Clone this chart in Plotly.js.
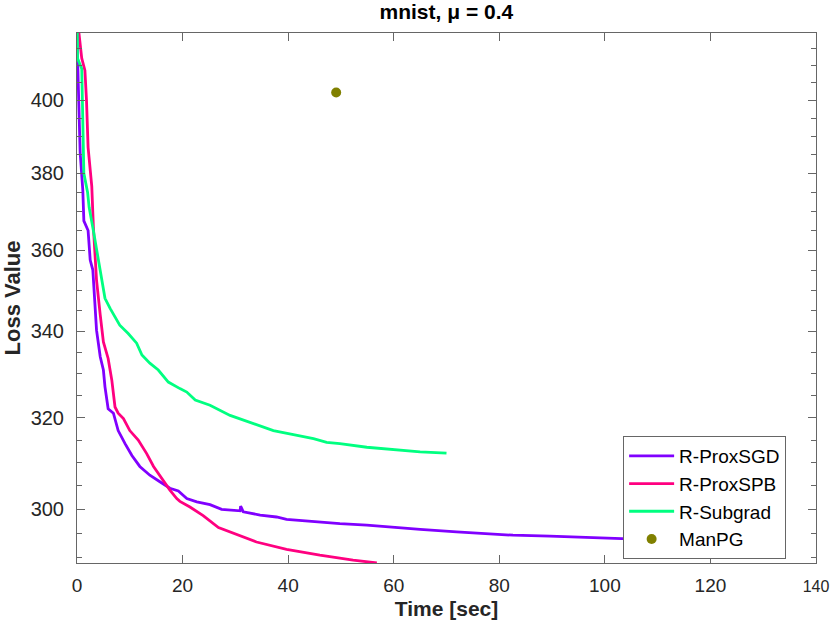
<!DOCTYPE html>
<html>
<head>
<meta charset="utf-8">
<script src="https://cdn.plot.ly/plotly-3.0.1.min.js"></script>
<style>html,body{margin:0;padding:0;background:#fff;}#chart{width:830px;height:625px;}</style>
</head>
<body>
<div id="chart"></div>
<script>
// R-ProxSGD
var sgdTime = [0, 0.1, 0.3, 0.6, 1.1, 1.3, 2.1, 2.5, 3.0, 3.4, 3.7, 4.4, 5.0, 5.3, 5.9, 6.9, 7.8, 9.1, 10.4, 11.9, 13.8, 15.7, 17.6, 19.2, 20.8, 22.7, 25.2, 27.4, 30.9, 31.0, 31.5, 34.7, 37.8, 39.7, 44.8, 49.8, 54.9, 59.9, 65.0, 71.9, 75.1, 82.6, 89.6, 96.6, 103.2, 108];
var sgdLoss = [418, 411, 401, 385.5, 375.5, 367.5, 365, 357.5, 355, 347.5, 340.3, 334, 330.9, 327, 322, 321, 317.1, 314.2, 311.6, 309.2, 307.3, 305.9, 304.5, 303.9, 302.3, 301.6, 301, 300, 299.7, 300.7, 299.5, 298.8, 298.4, 297.9, 297.4, 297.0, 296.7, 296.2, 295.8, 295.3, 295.1, 294.6, 294.4, 294.1, 293.9, 293.8];
// R-ProxSPB
var spbTime = [0.25, 0.9, 1.5, 1.8, 2.1, 2.8, 3.1, 3.7, 4.4, 4.7, 5.0, 5.9, 6.6, 7.2, 7.8, 8.8, 10.0, 11.6, 13.2, 14.5, 16.0, 17.6, 18.9, 19.5, 21.4, 23.9, 26.8, 30.2, 34.0, 39.7, 46.0, 52.3, 56.8];
var spbLoss = [421, 412, 408.5, 400, 387, 376.5, 366, 352.5, 344, 340.3, 337.5, 333.6, 328.5, 322.4, 321, 319.8, 317.1, 315, 312, 309.2, 306.6, 304.1, 302.3, 301.7, 300.5, 298.7, 296.2, 294.8, 293.2, 291.7, 290.5, 289.5, 288.9];
// R-Subgrad
var subTime = [0.05, 0.1, 0.9, 1.0, 1.1, 1.3, 2.0, 2.3, 3.1, 4.3, 5.3, 6.3, 8.1, 9.7, 11.3, 12.3, 13.8, 15.4, 17.3, 19.5, 20.8, 22.4, 25.2, 29.0, 33.4, 37.2, 41.0, 44.8, 47.3, 49.8, 54.9, 59.9, 65.0, 70.0];
var subLoss = [422, 412, 409, 400, 390, 380, 375, 371, 365, 355, 348, 345.5, 341.5, 339.5, 337.2, 334.4, 332.5, 330.9, 328.1, 326.6, 325.8, 324, 322.8, 320.5, 318.6, 317.1, 316.2, 315.3, 314.5, 314.2, 313.4, 312.9, 312.4, 312.1];
// ManPG
var manTime = [49.1];
var manLoss = [402.2];

var xTicks = [0, 20, 40, 60, 80, 100, 120, 140];
var xTickText = ['0', '20', '40', '60', '80', '100', '120', '140'];
var yTicks = [300, 320, 340, 360, 380, 400];
var yTickText = ['300', '320', '340', '360', '380', '400'];
var yMinor = [290, 295, 305, 310, 315, 325, 330, 335, 345, 350, 355, 365, 370, 375, 385, 390, 395, 405, 410, 415];

// the last x label sits at the window edge: draw it a little smaller so it fits
var xLabels = xTickText.map(function (t, i) {
  return i === xTickText.length - 1 ? '<span style="font-size:16px">' + t + '</span>' : t;
});

var FONT = 'Liberation Sans, Arial, Helvetica, sans-serif';
var traces = [
  {x: sgdTime, y: sgdLoss, name: 'R-ProxSGD', mode: 'lines', line: {color: '#8000ff', width: 2.8}},
  {x: spbTime, y: spbLoss, name: 'R-ProxSPB', mode: 'lines', line: {color: '#ff0080', width: 2.8}},
  {x: subTime, y: subLoss, name: 'R-Subgrad', mode: 'lines', line: {color: '#00ff80', width: 2.8}},
  {x: manTime, y: manLoss, name: 'ManPG', mode: 'markers', marker: {color: '#808000', size: 10}}
];

var layout = {
  width: 830, height: 625,
  margin: {l: 77, r: 14, t: 33, b: 62},
  paper_bgcolor: '#fff', plot_bgcolor: '#fff',
  font: {family: FONT, color: '#262626', size: 20},
  title: {text: '<b>mnist, μ = 0.4</b>', font: {family: FONT, size: 21, color: '#000'}, x: 0.5378, xanchor: 'center', y: 0.981, yanchor: 'middle'},
  xaxis: {
    range: [0, 140], tickvals: xTicks, ticktext: xLabels,
    ticks: 'inside', ticklen: 8, tickwidth: 1, tickcolor: '#666',
    showline: true, linecolor: '#666', linewidth: 1, mirror: 'allticks',
    showgrid: false, zeroline: false, ticklabeloverflow: 'allow', ticklabelstandoff: 5,
    tickfont: {size: 19, color: '#262626'},
    title: {text: '<b>Time [sec]</b>', font: {size: 21, color: '#262626'}, standoff: 6}
  },
  yaxis: {
    type: 'log', range: [Math.log10(288.9), Math.log10(419.4)],
    tickvals: yTicks, ticktext: yTickText,
    ticks: 'inside', ticklen: 8, tickwidth: 1, tickcolor: '#666',
    minor: {tickvals: yMinor, ticks: 'inside', ticklen: 5, tickcolor: '#666', tickwidth: 1},
    showline: true, linecolor: '#666', linewidth: 1, mirror: 'allticks',
    showgrid: false, zeroline: false, ticklabelstandoff: 8,
    tickfont: {size: 20, color: '#262626'},
    title: {text: '<b>Loss Value</b>', font: {size: 22, color: '#262626'}, standoff: 8}
  },
  showlegend: true,
  legend: {
    x: 0.739, y: 0.2396, xanchor: 'left', yanchor: 'top',
    bgcolor: '#fff', bordercolor: '#666', borderwidth: 1,
    font: {size: 19, color: '#000'}, itemwidth: 45, tracegroupgap: 0
  }
};

Plotly.newPlot('chart', traces, layout, {displayModeBar: false, staticPlot: true});
</script>
</body>
</html>
